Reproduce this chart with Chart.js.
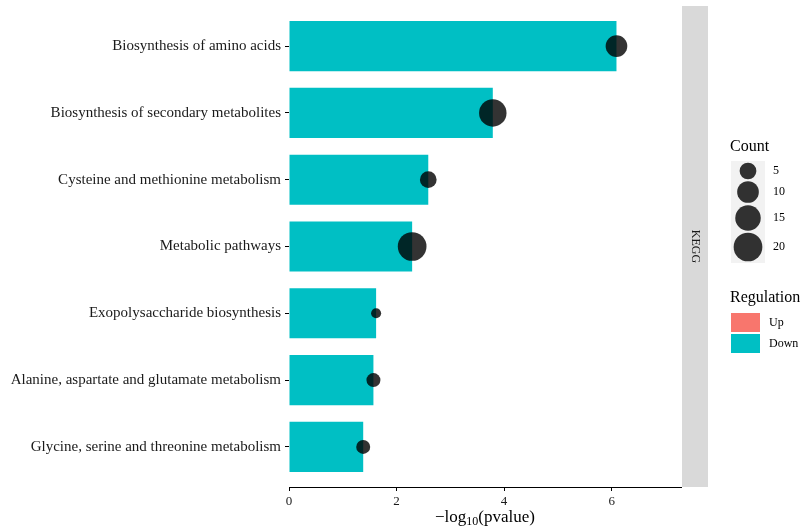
<!DOCTYPE html>
<html>
<head>
<meta charset="utf-8">
<script src="https://cdn.jsdelivr.net/npm/chart.js@4/dist/chart.umd.min.js"></script>
<style>
  html, body { margin: 0; padding: 0; background: #ffffff; }
  #wrap { width: 804px; height: 529px; }
</style>
</head>
<body>
<div id="wrap"><canvas id="c" width="804" height="529"></canvas></div>
<script>
// KEGG enrichment of down-regulated genes
const pathways = [
  'Biosynthesis of amino acids',
  'Biosynthesis of secondary metabolites',
  'Cysteine and methionine metabolism',
  'Metabolic pathways',
  'Exopolysaccharide biosynthesis',
  'Alanine, aspartate and glutamate metabolism',
  'Glycine, serine and threonine metabolism'
];
const negLog10P = [6.09, 3.79, 2.59, 2.29, 1.62, 1.57, 1.38];
const geneCounts = [10, 18, 5, 20, 1, 3, 3];
const regulation = ['Down', 'Down', 'Down', 'Down', 'Down', 'Down', 'Down'];

const xTickValues = [0, 2, 4, 6];
const countBreaks = [5, 10, 15, 20];
const regulationLevels = ['Up', 'Down'];
const facetLabel = 'KEGG';

const regulationColors = { Up: '#F8766D', Down: '#00BFC4' };
const pointColor = 'rgba(0,0,0,0.8)';
const serif = '"Liberation Serif", "DejaVu Serif", serif';

// area-style size scale: diameter grows with sqrt(count)
function countRadius(c) {
  return (4.7 + 5.37 * Math.sqrt(c)) / 2;
}

const stripAndLegend = {
  id: 'stripAndLegend',
  afterDraw(chart) {
    const ctx = chart.ctx;
    const area = chart.chartArea;
    ctx.save();

    // facet strip on the right of the panel
    ctx.fillStyle = '#d9d9d9';
    ctx.fillRect(area.right + 1, area.top, 26, area.bottom - area.top);
    ctx.save();
    ctx.translate(area.right + 14, (area.top + area.bottom) / 2);
    ctx.rotate(Math.PI / 2);
    ctx.fillStyle = '#1a1a1a';
    ctx.font = '12px ' + serif;
    ctx.textAlign = 'center';
    ctx.textBaseline = 'middle';
    ctx.fillText(facetLabel, 0, 0);
    ctx.restore();

    // x axis title with subscript
    const xs = chart.scales.x;
    const cx = (xs.left + xs.right) / 2;
    const base = 522;
    const big = '17px ' + serif, small = '12px ' + serif;
    const partA = '\u2212log', partB = '10', partC = '(pvalue)';
    ctx.font = big; const wA = ctx.measureText(partA).width;
    const wC = ctx.measureText(partC).width;
    ctx.font = small; const wB = ctx.measureText(partB).width;
    let x0 = cx - (wA + wB + wC) / 2;
    ctx.fillStyle = '#000';
    ctx.textAlign = 'left';
    ctx.textBaseline = 'alphabetic';
    ctx.font = big; ctx.fillText(partA, x0, base);
    ctx.font = small; ctx.fillText(partB, x0 + wA, base + 3);
    ctx.font = big; ctx.fillText(partC, x0 + wA + wB, base);

    // size legend
    ctx.fillStyle = '#000';
    ctx.font = '16px ' + serif;
    ctx.textBaseline = 'middle';
    ctx.fillText('Count', 730, 147);
    ctx.fillStyle = '#f2f2f2';
    ctx.fillRect(731, 161, 34, 102);
    const keyY = [171, 192, 218, 247];
    countBreaks.forEach((b, i) => {
      ctx.beginPath();
      ctx.arc(748, keyY[i], countRadius(b), 0, Math.PI * 2);
      ctx.fillStyle = pointColor;
      ctx.fill();
      ctx.fillStyle = '#000';
      ctx.font = '12px ' + serif;
      ctx.fillText(String(b), 773, keyY[i]);
    });

    // fill legend
    ctx.font = '16px ' + serif;
    ctx.fillStyle = '#000';
    ctx.fillText('Regulation', 730, 298);
    regulationLevels.forEach((lvl, i) => {
      const y = 313 + i * 21;
      ctx.fillStyle = regulationColors[lvl];
      ctx.fillRect(731, y, 29, 19);
      ctx.fillStyle = '#000';
      ctx.font = '12px ' + serif;
      ctx.fillText(lvl, 769, y + 10);
    });

    ctx.restore();
  }
};

new Chart(document.getElementById('c'), {
  data: {
    datasets: [
      {
        type: 'bar',
        order: 2,
        data: pathways.map((p, i) => ({ x: negLog10P[i], y: i })),
        backgroundColor: regulation.map(r => regulationColors[r]),
        borderWidth: 0,
        barPercentage: 0.75,
        categoryPercentage: 1
      },
      {
        type: 'scatter',
        order: 1,
        data: pathways.map((p, i) => ({ x: negLog10P[i], y: i })),
        backgroundColor: pointColor,
        borderWidth: 0,
        pointRadius: ctx => countRadius(geneCounts[ctx.dataIndex])
      }
    ]
  },
  options: {
    indexAxis: 'y',
    responsive: false,
    devicePixelRatio: 1,
    animation: false,
    events: [],
    layout: { autoPadding: false, padding: { top: 6, right: 123, left: 0, bottom: 0 } },
    plugins: { legend: { display: false }, tooltip: { enabled: false } },
    scales: {
      x: {
        type: 'linear',
        min: 0,
        max: 7.29,
        afterBuildTicks: s => { s.ticks = xTickValues.map(v => ({ value: v })); },
        afterFit: s => { s.height = 42; s.paddingLeft = 0; s.paddingRight = 0; },
        grid: { drawOnChartArea: false, drawTicks: true, tickLength: 4, color: '#000' },
        border: { display: true, color: '#000', width: 1 },
        ticks: { color: '#1a1a1a', font: { family: serif, size: 13 }, padding: 3, maxRotation: 0 }
      },
      y: {
        type: 'linear',
        reverse: true,
        offset: false,
        min: -0.6,
        max: 6.6,
        afterBuildTicks: s => { s.ticks = pathways.map((p, i) => ({ value: i })); },
        afterFit: s => { s.width = 289; s.paddingTop = 0; s.paddingBottom = 0; },
        grid: { offset: false, drawOnChartArea: false, drawTicks: true, tickLength: 4, color: '#000' },
        border: { display: false },
        ticks: {
          color: '#1a1a1a',
          font: { family: serif, size: 15 },
          padding: 4,
          callback: v => pathways[v]
        }
      }
    }
  },
  plugins: [stripAndLegend]
});
</script>
</body>
</html>
